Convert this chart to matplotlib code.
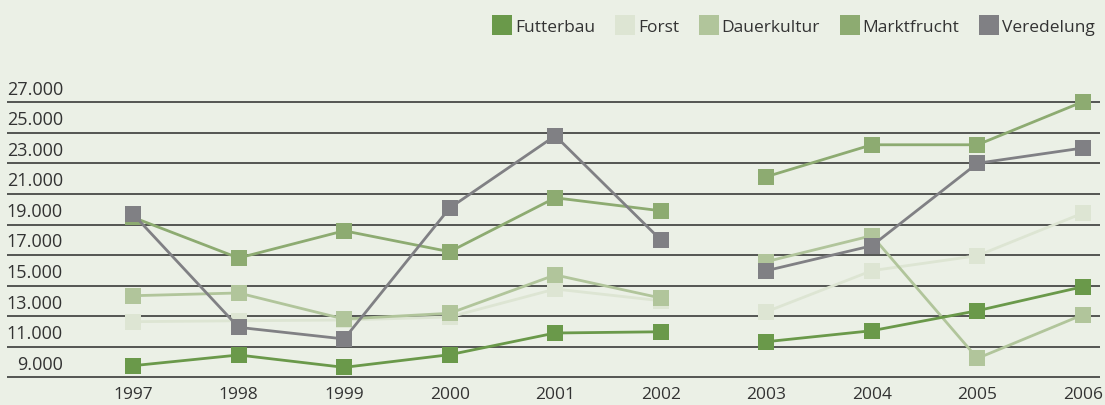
import matplotlib
matplotlib.use("Agg")
import matplotlib.pyplot as plt
from matplotlib.lines import Line2D
import numpy as np

years = ["1997", "1998", "1999", "2000", "2001", "2002", "2003", "2004", "2005", "2006"]
futterbau   = [9760, 10460, 9650, 10480, 11900, 11980, 11330, 12050, 13360, 14930]
forst       = [12640, 12700, 12750, 12950, 14780, 14010, 13290, 15980, 16960, 19750]
dauerkultur = [14340, 14520, 12815, 13190, 15700, 14190, 16570, 18270, 10240, 13100]
marktfrucht = [19470, 16810, 18590, 17220, 20750, 19900, 22130, 24220, 24220, 27040]
veredelung  = [19687, 12270, 11510, 20080, 24810, 17990, 15980, 17610, 23010, 24010]
y_ticks = [9000, 11000, 13000, 15000, 17000, 19000, 21000, 23000, 25000, 27000]
y_tick_labels = ["9.000", "11.000", "13.000", "15.000", "17.000", "19.000",
                 "21.000", "23.000", "25.000", "27.000"]
series_names = ["Futterbau", "Forst", "Dauerkultur", "Marktfrucht", "Veredelung"]
series_values = [futterbau, forst, dauerkultur, marktfrucht, veredelung]
colors = ["#6a994a", "#dde5d3", "#b1c59b", "#8dab71", "#808084"]
# drawing order (back to front)
order = [1, 2, 0, 3, 4]
break_after = 6  # gap between 2002 and 2003

plt.rcParams['font.family'] = ['Open Sans', 'DejaVu Sans']
BG = "#ebf0e6"
TXT = "#333333"

W, H = 1105, 406
fig = plt.figure(figsize=(W / 100, H / 100), dpi=100, facecolor=BG)

ax_left, ax_right = 7, 1100
ax_top, ax_bot = 90, 385
ax = fig.add_axes([ax_left / W, 1 - ax_bot / H, (ax_right - ax_left) / W, (ax_bot - ax_top) / H])
ax.set_facecolor(BG)

ppu = (1083 - 133) / 9
ax.set_xlim(0 - (133 - ax_left) / ppu, 9 + (ax_right - 1083) / ppu)
ppv = (378.3 - 103.3) / 18000
ax.set_ylim(9000 - (ax_bot - 378.3) / ppv, 27000 + (103.3 - ax_top) / ppv)

for s in ax.spines.values():
    s.set_visible(False)
ax.set_xticks([])
ax.set_yticks([])

label_x = (63 - ax_left) / (ax_right - ax_left)
for v, lab in zip(y_ticks, y_tick_labels):
    ax.axhline(v, color="#2b2b2b", lw=1.1, zorder=1)
    ax.text(label_x, v + 300, lab, transform=ax.get_yaxis_transform(),
            ha="right", va="bottom", fontsize=13, color=TXT)

x = np.arange(len(years))
for i in order:
    vals = np.array(series_values[i], dtype=float)
    for sl in (slice(0, break_after), slice(break_after, len(years))):
        ax.plot(x[sl], vals[sl], color=colors[i], lw=2.0, marker="s",
                markersize=11.5, markeredgewidth=0, zorder=3 + order.index(i),
                clip_on=False)

for xi, yr in zip(x, years):
    ax.text(xi, 9000 - 9 / ppv, yr, ha="center", va="top", fontsize=12.5, color=TXT)

handles = [Line2D([], [], color=c, marker="s", linestyle="None", markersize=13.7,
                  markeredgewidth=0) for c in colors]
fig.legend(handles, series_names, loc="upper right", bbox_to_anchor=(1100 / W, 1 - 15 / H),
           ncol=5, frameon=False, fontsize=12.5, handlelength=1.0, handletextpad=0.25,
           columnspacing=1.2, labelcolor=TXT, borderaxespad=0, borderpad=0.3)

fig.savefig("out.png", dpi=100, facecolor=BG)
